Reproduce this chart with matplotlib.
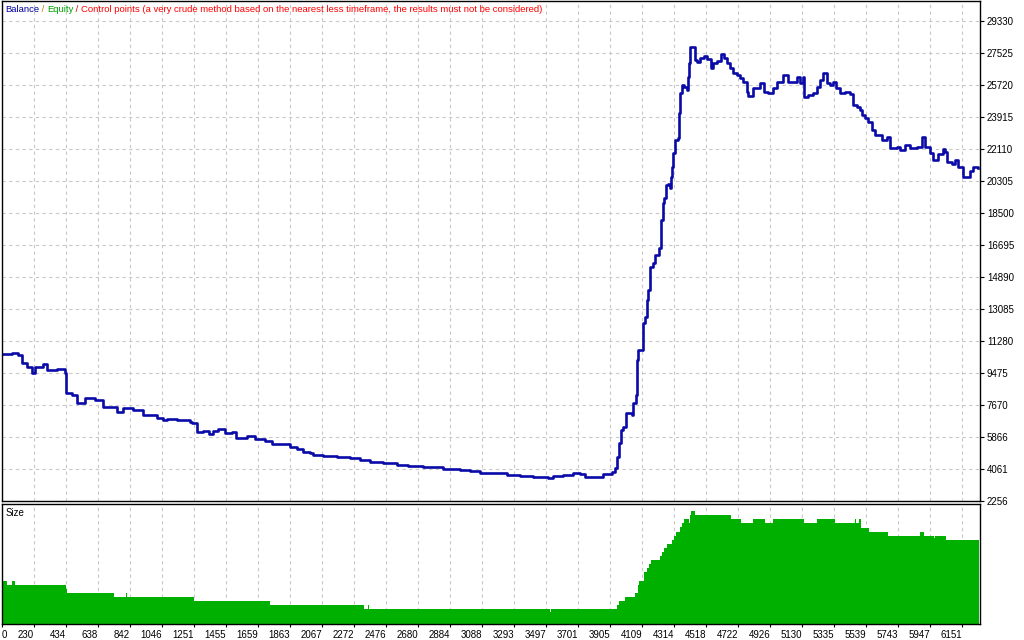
import numpy as np
import matplotlib
matplotlib.use("Agg")
import matplotlib.pyplot as plt

plt.rcParams['font.family'] = ['Liberation Sans', 'DejaVu Sans']

# balance curve (trade number, balance)
trades = [1, 89, 128, 153, 185, 217, 236, 287, 313, 376, 427, 434, 472, 504, 555, 619,
          670, 727, 759, 798, 861, 925, 1014, 1053, 1078, 1142, 1225, 1238, 1270, 1308,
          1346, 1372, 1404, 1448, 1493, 1518, 1589, 1640, 1703, 1748, 1831, 1863, 1908,
          1946, 1991, 2010, 2074, 2163, 2246, 2310, 2373, 2456, 2546, 2616, 2712, 2775,
          2839, 2948, 3011, 3075, 3158, 3247, 3330, 3413, 3509, 3541, 3605, 3668, 3713,
          3745, 3809, 3860, 3917, 3937, 3949, 3962, 3975, 3988, 4007, 4026, 4045, 4051,
          4070, 4077, 4083, 4109, 4115, 4118, 4128, 4141, 4147, 4160, 4179, 4192, 4211,
          4217, 4230, 4231, 4243, 4249, 4262, 4275, 4287, 4294, 4300, 4307, 4319, 4338,
          4345, 4351, 4364, 4377, 4396, 4402, 4409, 4415, 4440, 4447, 4460, 4479, 4504,
          4523, 4549, 4562, 4587, 4612, 4632, 4651, 4670, 4689, 4715, 4734, 4753, 4778,
          4784, 4817, 4861, 4887, 4912, 4944, 4970, 5008, 5040, 5072, 5097, 5117, 5136,
          5142, 5168, 5200, 5225, 5244, 5264, 5289, 5308, 5327, 5346, 5372, 5404, 5436,
          5455, 5480, 5500, 5512, 5531, 5551, 5576, 5595, 5627, 5640, 5672, 5691, 5710,
          5736, 5755, 5787, 5819, 5838, 5863, 5895, 5915, 5947, 5965, 5997, 6029, 6041,
          6054, 6086, 6105, 6125, 6157, 6176, 6201, 6220, 6252]
balance = [10550, 10603, 10490, 10039, 9814, 9475, 9814, 9983, 9644, 9701, 9475, 8347,
           8234, 7783, 8065, 7952, 7558, 7558, 7276, 7501, 7388, 7106, 6937, 6824, 6881,
           6824, 6712, 6655, 6148, 6204, 6035, 6204, 6317, 6091, 6148, 5809, 5922, 5753,
           5640, 5471, 5471, 5302, 5189, 5020, 4963, 4850, 4794, 4738, 4681, 4568, 4456,
           4399, 4286, 4230, 4174, 4174, 4061, 4004, 3948, 3835, 3835, 3722, 3666, 3610,
           3553, 3666, 3722, 3835, 3779, 3610, 3610, 3779, 3892, 4117, 4738, 5527, 6260,
           6430, 7219, 7219, 7106, 7783, 8234, 10208, 10772, 10772, 11336, 12295, 12634,
           13592, 14156, 15454, 15679, 16130, 16130, 16525, 16976, 18104, 19063, 19345,
           20078, 20135, 19909, 20530, 21094, 21883, 22616, 22729, 24139, 25267, 25718,
           25606, 25436, 26170, 26959, 27862, 27862, 27128, 27016, 27241, 27354, 27185,
           26677, 26959, 27072, 27467, 27241, 26959, 26677, 26395, 26282, 26113, 25888,
           25324, 25098, 25549, 25831, 25324, 25267, 25549, 25888, 26282, 25888, 25888,
           26170, 25831, 26170, 25042, 25154, 25267, 25606, 26000, 26395, 25831, 25718,
           25888, 25549, 25267, 25324, 25211, 24590, 24478, 24308, 24026, 23857, 23632,
           23180, 22898, 22898, 22616, 22786, 22165, 22165, 22222, 22052, 22334, 22165,
           22165, 22222, 22786, 22222, 21883, 21488, 21827, 22109, 21940, 21376, 21263,
           21488, 21094, 20530, 20530, 20868, 21094, 21037]

# lot size steps (trade where the step starts, lots)
size_start = [25, 55, 87, 107, 432, 438, 740, 817, 823, 1250, 1735, 2335, 2361, 2367,
              3520, 3526, 3949, 3962, 4000, 4064, 4083, 4090, 4122, 4141, 4154, 4166,
              4224, 4236, 4249, 4268, 4300, 4313, 4326, 4351, 4364, 4377, 4409, 4415,
              4421, 4447, 4677, 4740, 4817, 4894, 4945, 5142, 5225, 5340, 5468, 5474,
              5493, 5506, 5557, 5678, 5882, 5908, 5972, 5978, 6048, 6160, 6166, 6259]
size_lots = [0.43, 0.39, 0.43, 0.39, 0.35, 0.31, 0.27, 0.31, 0.27, 0.23, 0.19, 0.15,
             0.19, 0.15, 0.12, 0.15, 0.19, 0.23, 0.27, 0.31, 0.39, 0.43, 0.52, 0.56,
             0.60, 0.64, 0.68, 0.72, 0.76, 0.80, 0.84, 0.88, 0.92, 0.97, 1.01, 1.05,
             1.01, 1.09, 1.13, 1.09, 1.05, 1.01, 1.05, 1.01, 1.05, 1.01, 1.05, 1.01,
             1.05, 1.01, 1.05, 0.96, 0.92, 0.88, 0.92, 0.88, 0.86, 0.88, 0.84, 0.81,
             0.84, 0.84]

y_ticks = [2256, 4061, 5866, 7670, 9475, 11280, 13085, 14890, 16695, 18500, 20305,
           22110, 23915, 25720, 27525, 29330]
x_ticks = [25, 230, 434, 638, 842, 1046, 1251, 1455, 1659, 1863, 2067, 2272, 2476, 2680,
           2884, 3088, 3293, 3497, 3701, 3905, 4109, 4314, 4518, 4722, 4926, 5130, 5335,
           5539, 5743, 5947, 6151]
x_labels = ['0'] + [str(v) for v in x_ticks[1:]]

W, H = 1024, 640
fig = plt.figure(figsize=(W / 100, H / 100), dpi=100)
ax = fig.add_axes([2 / W, (H - 501) / H, 978 / W, 500 / H])
ax2 = fig.add_axes([2 / W, (H - 624) / H, 978 / W, 120 / H])

grid_kw = dict(color='#c8c8c8', linestyle=(0, (3, 3)), linewidth=0.8)
for a in (ax, ax2):
    a.set_xlim(25, 6265)
    a.set_xticks(x_ticks)
    for s in a.spines.values():
        s.set_linewidth(1.0)
        s.set_color('black')
    a.set_axisbelow(True)

# main panel
ax.plot(trades, balance, color='#0a0aa8', lw=1.9, drawstyle='steps-post')
ax.set_ylim(2256, 30456)
ax.set_yticks(y_ticks)
ax.yaxis.tick_right()
ax.tick_params(axis='y', direction='out', length=3, width=0.8, pad=2, labelsize=7)
ax.tick_params(axis='x', length=0, labelbottom=False)
ax.grid(True, **grid_kw)

t = ax.text(3 / 978, 1 - 4 / 500, 'Balance', transform=ax.transAxes, color='#0000a0',
            fontsize=6.8, va='top', ha='left')
parts = [(' / ', '#c08000'), ('Equity', '#00a000'), (' / ', '#e00000'),
         ('Control points (a very crude method based on the nearest less timeframe, '
          'the results must not be considered)', '#ff0000')]
for txt, col in parts:
    t = ax.annotate(txt, xy=(1, 0), xycoords=t, va='bottom', ha='left',
                    color=col, fontsize=6.8)

# size panel
ax2.fill_between(size_start, size_lots, step='post', color='#00b000', lw=0)
ax2.set_ylim(0, 1.20)
ax2.set_yticks([])
ax2.grid(True, axis='x', **grid_kw)
ax2.set_xticklabels(x_labels)
ax2.tick_params(axis='x', length=2, width=0.8, pad=2, labelsize=7)
for lab in ax2.get_xticklabels():
    lab.set_ha('right')
ax2.get_xticklabels()[0].set_ha('left')
ax2.text(4 / 978, 1 - 4 / 120, 'Size', transform=ax2.transAxes, fontsize=7,
         va='top', ha='left', color='black')

fig.savefig('out.png', dpi=100)
